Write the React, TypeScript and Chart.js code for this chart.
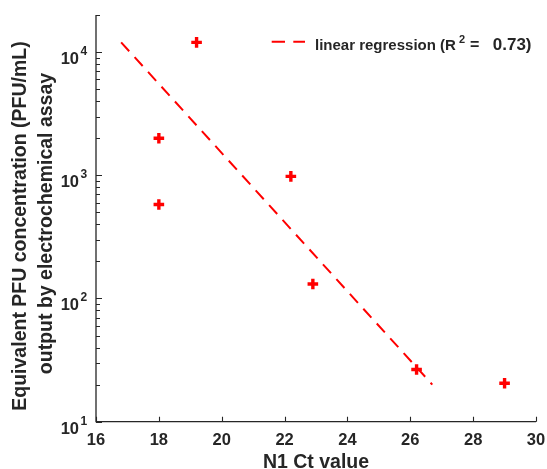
import { useEffect, useRef } from "react";
import { Chart, registerables } from "chart.js";

Chart.register(...registerables);

// ---- data ----
const ctValues = [18.0, 18.0, 19.2, 22.2, 22.9, 26.2, 29.0];
const pfuValues = [580, 2000, 12000, 980, 131, 26.5, 20.5];
const regressionCt = [16.8, 26.7];
const regressionPfu = [12000, 20];

const xTicks = [16, 18, 20, 22, 24, 26, 28, 30];
const yMajorTicks = [10, 100, 1000, 10000];
const yExponents = ["1", "2", "3", "4"];
const yMinorTicks = [
  20, 30, 40, 50, 60, 70, 80, 90,
  200, 300, 400, 500, 600, 700, 800, 900,
  2000, 3000, 4000, 5000, 6000, 7000, 8000, 9000,
  20000,
];

const xTitle = "N1 Ct value";
const yTitleLines = ["Equivalent PFU concentration (PFU/mL)", "output by electrochemical assay"];
const legendMain = "linear regression (R";
const legendSup = "2";
const legendEq = "=";
const legendValue = "0.73)";

const FONT = '"Liberation Sans", Arial, Helvetica, sans-serif';
const TEXT = "#262626";
const RED = "#ff0000";

const decorPlugin = {
  id: "matlabDecor",
  afterDraw(chart: any) {
    const { ctx, chartArea: a, scales } = chart;
    const x = scales.x;
    const y = scales.y;
    ctx.save();

    // axes lines
    ctx.strokeStyle = TEXT;
    ctx.lineWidth = 1.3;
    ctx.beginPath();
    ctx.moveTo(a.left, a.top);
    ctx.lineTo(a.left, a.bottom);
    ctx.lineTo(a.right, a.bottom);
    ctx.stroke();

    // ticks (inward)
    ctx.lineWidth = 1.1;
    ctx.beginPath();
    for (const v of yMajorTicks) {
      const py = Math.round(y.getPixelForValue(v)) + 0.5;
      ctx.moveTo(a.left, py);
      ctx.lineTo(a.left + 6, py);
    }
    for (const v of yMinorTicks) {
      const py = Math.round(y.getPixelForValue(v)) + 0.5;
      ctx.moveTo(a.left, py);
      ctx.lineTo(a.left + 4, py);
    }
    for (const v of xTicks) {
      const px = Math.round(x.getPixelForValue(v)) + 0.5;
      ctx.moveTo(px, a.bottom);
      ctx.lineTo(px, a.bottom - 5);
    }
    ctx.stroke();

    ctx.fillStyle = TEXT;

    // y tick labels 10^n
    yMajorTicks.forEach((v, i) => {
      const py = y.getPixelForValue(v);
      ctx.font = `bold 16.5px ${FONT}`;
      ctx.textAlign = "right";
      ctx.textBaseline = "alphabetic";
      ctx.fillText("10", a.left - 17, py + 12);
      ctx.font = `bold 12px ${FONT}`;
      ctx.textAlign = "left";
      ctx.fillText(yExponents[i], a.left - 15.5, py + 3);
    });

    // x tick labels
    ctx.font = `bold 16.5px ${FONT}`;
    ctx.textAlign = "center";
    ctx.textBaseline = "alphabetic";
    for (const v of xTicks) {
      ctx.fillText(String(v), x.getPixelForValue(v), a.bottom + 23.3);
    }

    // x title
    ctx.font = `bold 19.5px ${FONT}`;
    ctx.fillText(xTitle, (a.left + a.right) / 2, a.bottom + 46.6);

    // y title (two lines, rotated)
    const yLines = [
      { text: yTitleLines[0], bx: 26, cy: 226 },
      { text: yTitleLines[1], bx: 51.7, cy: 223.5 },
    ];
    for (const l of yLines) {
      ctx.save();
      ctx.translate(l.bx, l.cy);
      ctx.rotate(-Math.PI / 2);
      ctx.textAlign = "center";
      ctx.textBaseline = "alphabetic";
      ctx.fillText(l.text, 0, 0);
      ctx.restore();
    }

    // legend
    ctx.strokeStyle = RED;
    ctx.lineWidth = 2;
    ctx.beginPath();
    ctx.moveTo(271.7, 41.7);
    ctx.lineTo(285, 41.7);
    ctx.moveTo(293.3, 41.7);
    ctx.lineTo(305, 41.7);
    ctx.stroke();

    ctx.fillStyle = TEXT;
    ctx.textAlign = "left";
    ctx.textBaseline = "alphabetic";
    ctx.font = `bold 15px ${FONT}`;
    ctx.fillText(legendMain, 315, 49.5);
    const mainW = ctx.measureText(legendMain).width;
    ctx.font = `bold 11px ${FONT}`;
    ctx.fillText(legendSup, 315 + mainW + 3, 42.5);
    ctx.font = `bold 16px ${FONT}`;
    ctx.fillText(legendEq, 470, 49.5);
    ctx.font = `bold 17px ${FONT}`;
    ctx.textAlign = "right";
    ctx.fillText(legendValue, 531.5, 49.5);

    ctx.restore();
  },
};

export default function App() {
  const canvasRef = useRef<HTMLCanvasElement | null>(null);

  useEffect(() => {
    const canvas = canvasRef.current;
    if (!canvas) return;
    const scatterData = ctValues.map((c, i) => ({ x: c, y: pfuValues[i] }));
    const regressionData = regressionCt.map((c, i) => ({ x: c, y: regressionPfu[i] }));

    const chart = new Chart(canvas, {
      type: "scatter",
      data: {
        datasets: [
          {
            label: "regression",
            data: regressionData,
            showLine: true,
            borderColor: RED,
            borderWidth: 2,
            borderDash: [12, 8],
            pointRadius: 0,
            fill: false,
          },
          {
            label: "samples",
            data: scatterData,
            showLine: false,
            pointStyle: "cross",
            pointRadius: 5.3,
            pointHoverRadius: 5.3,
            borderColor: RED,
            backgroundColor: RED,
            pointBorderWidth: 3.4,
            borderWidth: 3.4,
          },
        ],
      },
      options: {
        responsive: false,
        animation: false,
        devicePixelRatio: 1,
        layout: { padding: { top: 15, right: 11, left: 0, bottom: 0 } },
        plugins: {
          legend: { display: false },
          tooltip: { enabled: false },
        },
        scales: {
          x: {
            type: "linear",
            min: 16,
            max: 30,
            ticks: { display: false },
            grid: { display: false, drawTicks: false },
            border: { display: false },
            afterFit: (s: any) => {
              s.height = 47.3;
            },
          },
          y: {
            type: "logarithmic",
            min: 10,
            max: 20000,
            ticks: { display: false },
            grid: { display: false, drawTicks: false },
            border: { display: false },
            afterFit: (s: any) => {
              s.width = 96;
            },
          },
        },
      },
      plugins: [decorPlugin],
    });
    return () => chart.destroy();
  }, []);

  return (
    <div style={{ position: "fixed", left: 0, top: 0, width: 547, height: 469, background: "#fff" }}>
      <canvas ref={canvasRef} width={547} height={469} style={{ display: "block", width: 547, height: 469 }} />
    </div>
  );
}
